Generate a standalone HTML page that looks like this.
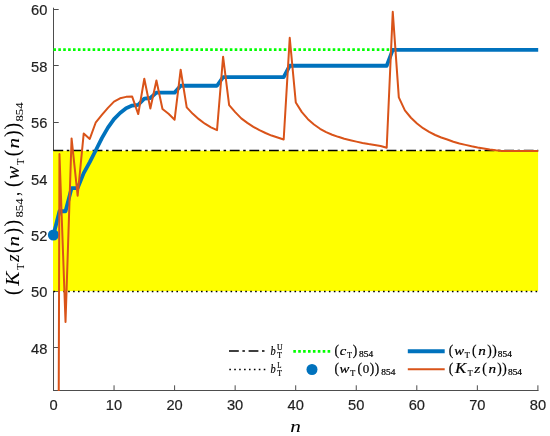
<!DOCTYPE html>
<html><head><meta charset="utf-8"><title>plot</title>
<style>html,body{margin:0;padding:0;background:#fff;overflow:hidden}svg{display:block}</style>
</head><body>
<svg width="550" height="436" viewBox="0 0 550 436">
<defs><clipPath id="c"><rect x="53" y="8" width="486" height="382.9"/></clipPath></defs>
<rect width="550" height="436" fill="#fff"/>
<g stroke="#4d4d4d" stroke-width="1" fill="none">
<path d="M53.5,7.7 V391.0 M53.0,390.5 H538.5"/>
<path d="M53.50,390.5 v-5.2"/>
<path d="M114.05,390.5 v-5.2"/>
<path d="M174.60,390.5 v-5.2"/>
<path d="M235.15,390.5 v-5.2"/>
<path d="M295.70,390.5 v-5.2"/>
<path d="M356.25,390.5 v-5.2"/>
<path d="M416.80,390.5 v-5.2"/>
<path d="M477.35,390.5 v-5.2"/>
<path d="M537.90,390.5 v-5.2"/>
<path d="M53.5,347.5 h5.2"/>
<path d="M53.5,291.5 h5.2"/>
<path d="M53.5,235.5 h5.2"/>
<path d="M53.5,178.5 h5.2"/>
<path d="M53.5,122.5 h5.2"/>
<path d="M53.5,65.5 h5.2"/>
<path d="M53.5,9.5 h5.2"/>
</g>
<g clip-path="url(#c)">
<rect x="53" y="150.75" width="485.10" height="140.40" fill="#ffff00"/>
<path d="M53.4,150.55 H538.2" stroke="#000" stroke-width="1.5" stroke-dasharray="9.8 3.6 2.5 3.7" fill="none"/>
<path d="M53.4,291.50 H538.2" stroke="#000" stroke-width="1.5" stroke-dasharray="1.6 3.32" fill="none"/>
<path d="M53.4,49.55 H538.2" stroke="#00ff00" stroke-width="2.67" stroke-dasharray="2.6 2.3" fill="none"/>
</g>
<circle cx="53.4" cy="235.00" r="5.5" fill="#0072bd"/>
<g clip-path="url(#c)">
<path d="M53.40,235.00 L59.46,211.27 L65.52,211.27 L71.58,188.11 L77.64,188.11 L83.70,173.13 L89.76,162.12 L95.82,150.25 L101.88,138.10 L107.94,127.65 L114.00,119.17 L120.06,112.96 L126.12,108.16 L132.18,105.62 L138.24,104.77 L144.30,98.55 L150.36,97.99 L156.42,92.62 L162.48,92.62 L168.54,92.62 L174.60,92.62 L180.66,85.76 L186.72,85.76 L192.78,85.76 L198.84,85.76 L204.90,85.76 L210.96,85.76 L217.02,85.76 L223.08,77.22 L229.14,77.22 L235.20,77.22 L241.26,77.22 L247.32,77.22 L253.38,77.22 L259.44,77.22 L265.50,77.22 L271.56,77.22 L277.62,77.22 L283.68,77.22 L289.74,65.75 L295.80,65.75 L301.86,65.75 L307.92,65.75 L313.98,65.75 L320.04,65.75 L326.10,65.75 L332.16,65.75 L338.22,65.75 L344.28,65.75 L350.34,65.75 L356.40,65.75 L362.46,65.75 L368.52,65.75 L374.58,65.75 L380.64,65.75 L386.70,65.75 L392.76,49.88 L398.82,49.88 L404.88,49.88 L410.94,49.88 L417.00,49.88 L423.06,49.88 L429.12,49.88 L435.18,49.88 L441.24,49.88 L447.30,49.88 L453.36,49.88 L459.42,49.88 L465.48,49.88 L471.54,49.88 L477.60,49.88 L483.66,49.88 L489.72,49.88 L495.78,49.88 L501.84,49.88 L507.90,49.88 L513.96,49.88 L520.02,49.88 L526.08,49.88 L532.14,49.88 L538.20,49.88" stroke="#0072bd" stroke-width="3.8" stroke-linejoin="round" fill="none"/>
<path d="M53.40,2127.75 L59.46,153.92 L65.52,322.01 L71.58,138.38 L77.64,195.73 L83.70,133.58 L89.76,138.95 L95.82,122.28 L101.88,114.94 L107.94,107.88 L114.00,101.66 L120.06,98.27 L126.12,96.86 L132.18,96.58 L138.24,114.09 L144.30,78.78 L150.36,108.44 L156.42,80.47 L162.48,109.00 L168.54,113.81 L174.60,119.74 L180.66,69.74 L186.72,107.31 L192.78,113.81 L198.84,119.17 L204.90,123.70 L210.96,127.37 L217.02,130.19 L223.08,56.74 L229.14,105.05 L235.20,112.11 L241.26,118.33 L247.32,122.85 L253.38,126.80 L259.44,130.19 L265.50,133.02 L271.56,135.56 L277.62,137.54 L283.68,139.51 L289.74,37.82 L295.80,102.51 L301.86,112.11 L307.92,119.17 L313.98,124.54 L320.04,128.78 L326.10,132.17 L332.16,134.71 L338.22,136.83 L344.28,138.67 L350.34,140.22 L356.40,141.63 L362.46,142.91 L368.52,144.04 L374.58,145.02 L380.64,146.01 L386.70,147.71 L392.76,11.83 L398.82,97.42 L404.88,110.42 L410.94,117.76 L417.00,123.41 L423.06,128.21 L429.12,131.89 L435.18,135.00 L441.24,137.54 L447.30,139.51 L453.36,141.78 L459.42,143.47 L465.48,144.88 L471.54,146.29 L477.60,147.42 L483.66,148.41 L489.72,149.40 L495.78,150.25 L501.84,150.96 L507.90,151.10 L513.96,151.10 L520.02,151.10 L526.08,151.10 L532.14,151.10 L538.20,151.10" stroke="#d95319" stroke-width="2.0" stroke-linejoin="round" fill="none"/>
</g>
<g font-family="'Liberation Sans', Arial, sans-serif" font-size="14.67" fill="#1f1f1f" stroke="#1f1f1f" stroke-width="0.2">
<text x="53.5" y="410.2" text-anchor="middle">0</text>
<text x="114.0" y="410.2" text-anchor="middle">10</text>
<text x="174.6" y="410.2" text-anchor="middle">20</text>
<text x="235.1" y="410.2" text-anchor="middle">30</text>
<text x="295.7" y="410.2" text-anchor="middle">40</text>
<text x="356.2" y="410.2" text-anchor="middle">50</text>
<text x="416.8" y="410.2" text-anchor="middle">60</text>
<text x="477.3" y="410.2" text-anchor="middle">70</text>
<text x="537.9" y="410.2" text-anchor="middle">80</text>
<text x="47.3" y="353.7" text-anchor="end">48</text>
<text x="47.3" y="297.3" text-anchor="end">50</text>
<text x="47.3" y="240.9" text-anchor="end">52</text>
<text x="47.3" y="184.5" text-anchor="end">54</text>
<text x="47.3" y="128.2" text-anchor="end">56</text>
<text x="47.3" y="71.8" text-anchor="end">58</text>
<text x="47.3" y="15.3" text-anchor="end">60</text>
</g>
<g fill="#000" stroke="#000" stroke-width="0.2">
<text stroke-width="0.05" font-family="'Liberation Serif', serif" font-style="italic" font-size="17.43" transform="translate(290.34,431.50) scale(1.220,1)">n</text>
<text font-family="'Liberation Serif', serif" font-style="italic" font-size="13.45" transform="translate(270.41,354.90) scale(0.773,1)">b</text>
<text font-family="'Liberation Serif', serif" font-size="8.02" transform="translate(276.94,350.22) scale(0.972,1)">U</text>
<text font-family="'Liberation Serif', serif" font-size="8.14" transform="translate(277.26,358.10) scale(0.960,1)">T</text>
<text font-family="'Liberation Serif', serif" font-style="italic" font-size="13.45" transform="translate(270.41,372.90) scale(0.773,1)">b</text>
<text font-family="'Liberation Serif', serif" font-size="8.14" transform="translate(277.20,368.30) scale(0.848,1)">L</text>
<text font-family="'Liberation Serif', serif" font-size="8.14" transform="translate(277.26,376.10) scale(0.960,1)">T</text>
<text font-family="'Liberation Serif', serif" font-size="14.41" transform="translate(334.47,354.90) scale(0.937,1)">(</text>
<text font-family="'Liberation Serif', serif" font-style="italic" font-size="12.47" transform="translate(339.75,354.91) scale(1.176,1)">c</text>
<text font-family="'Liberation Serif', serif" font-size="8.14" transform="translate(347.16,358.00) scale(0.960,1)">T</text>
<text font-family="'Liberation Serif', serif" font-size="14.41" transform="translate(352.63,354.90) scale(0.937,1)">)</text>
<text font-family="'Liberation Serif', serif" font-size="7.69" transform="translate(359.06,357.30) scale(1.220,1)">854</text>
<text font-family="'Liberation Serif', serif" font-size="14.41" transform="translate(334.47,372.90) scale(0.937,1)">(</text>
<text font-family="'Liberation Serif', serif" font-style="italic" font-size="12.80" transform="translate(339.55,372.91) scale(1.155,1)">w</text>
<text font-family="'Liberation Serif', serif" font-size="8.14" transform="translate(350.15,376.00) scale(1.003,1)">T</text>
<text font-family="'Liberation Serif', serif" font-size="14.41" transform="translate(357.57,372.90) scale(0.937,1)">(</text>
<text font-family="'Liberation Serif', serif" font-size="13.14" transform="translate(362.71,372.91) scale(0.988,1)">0</text>
<text font-family="'Liberation Serif', serif" font-size="14.41" transform="translate(369.73,372.90) scale(0.937,1)">)</text>
<text font-family="'Liberation Serif', serif" font-size="14.41" transform="translate(374.63,372.90) scale(0.937,1)">)</text>
<text font-family="'Liberation Serif', serif" font-size="7.69" transform="translate(381.26,375.30) scale(1.220,1)">854</text>
<text font-family="'Liberation Serif', serif" font-size="14.41" transform="translate(448.77,354.90) scale(0.937,1)">(</text>
<text font-family="'Liberation Serif', serif" font-style="italic" font-size="12.80" transform="translate(454.25,354.91) scale(1.155,1)">w</text>
<text font-family="'Liberation Serif', serif" font-size="8.14" transform="translate(464.75,358.00) scale(1.003,1)">T</text>
<text font-family="'Liberation Serif', serif" font-size="14.41" transform="translate(471.97,354.90) scale(0.937,1)">(</text>
<text font-family="'Liberation Serif', serif" font-style="italic" font-size="12.45" transform="translate(478.35,354.90) scale(1.220,1)">n</text>
<text font-family="'Liberation Serif', serif" font-size="14.41" transform="translate(487.33,354.90) scale(0.937,1)">)</text>
<text font-family="'Liberation Serif', serif" font-size="14.41" transform="translate(492.23,354.90) scale(0.937,1)">)</text>
<text font-family="'Liberation Serif', serif" font-size="7.69" transform="translate(497.86,357.30) scale(1.220,1)">854</text>
<text font-family="'Liberation Serif', serif" font-size="14.41" transform="translate(448.77,372.90) scale(0.937,1)">(</text>
<text font-family="'Liberation Serif', serif" font-style="italic" font-size="13.90" transform="translate(454.93,372.90) scale(1.220,1)">K</text>
<text font-family="'Liberation Serif', serif" font-size="8.14" transform="translate(467.86,376.00) scale(0.960,1)">T</text>
<text font-family="'Liberation Serif', serif" font-style="italic" font-size="12.78" transform="translate(474.36,372.90) scale(1.220,1)">z</text>
<text font-family="'Liberation Serif', serif" font-size="14.41" transform="translate(482.17,372.90) scale(0.937,1)">(</text>
<text font-family="'Liberation Serif', serif" font-style="italic" font-size="12.45" transform="translate(488.40,372.90) scale(1.220,1)">n</text>
<text font-family="'Liberation Serif', serif" font-size="14.41" transform="translate(497.33,372.90) scale(0.937,1)">)</text>
<text font-family="'Liberation Serif', serif" font-size="14.41" transform="translate(502.33,372.90) scale(0.937,1)">)</text>
<text font-family="'Liberation Serif', serif" font-size="7.69" transform="translate(507.96,375.30) scale(1.220,1)">854</text>
<g transform="translate(19.3,295.2) rotate(-90)" stroke-width="0.05">
<text font-family="'Liberation Serif', serif" font-size="20.18" transform="translate(0.24,-0.00) scale(0.937,1)">(</text>
<text font-family="'Liberation Serif', serif" font-style="italic" font-size="19.47" transform="translate(9.45,0.00) scale(1.089,1)">K</text>
<text font-family="'Liberation Serif', serif" font-size="11.06" transform="translate(25.52,4.30) scale(0.910,1)">T</text>
<text font-family="'Liberation Serif', serif" font-style="italic" font-size="17.90" transform="translate(33.51,0.00) scale(1.039,1)">z</text>
<text font-family="'Liberation Serif', serif" font-size="20.18" transform="translate(42.24,-0.00) scale(0.937,1)">(</text>
<text font-family="'Liberation Serif', serif" font-style="italic" font-size="17.43" transform="translate(48.79,0.00) scale(1.220,1)">n</text>
<text font-family="'Liberation Serif', serif" font-size="20.18" transform="translate(61.06,-0.00) scale(0.937,1)">)</text>
<text font-family="'Liberation Serif', serif" font-size="20.18" transform="translate(68.86,-0.00) scale(0.937,1)">)</text>
<text font-family="'Liberation Serif', serif" font-size="10.45" transform="translate(77.60,4.00) scale(1.220,1)">854</text>
<text font-family="'Liberation Serif', serif" font-size="20.25" transform="translate(99.34,0.19) scale(0.730,1)">,</text>
<text font-family="'Liberation Serif', serif" font-size="20.18" transform="translate(108.14,-0.00) scale(0.937,1)">(</text>
<text font-family="'Liberation Serif', serif" font-style="italic" font-size="17.92" transform="translate(115.83,0.01) scale(1.097,1)">w</text>
<text font-family="'Liberation Serif', serif" font-size="11.06" transform="translate(130.31,4.30) scale(0.942,1)">T</text>
<text font-family="'Liberation Serif', serif" font-size="20.18" transform="translate(138.84,-0.00) scale(0.937,1)">(</text>
<text font-family="'Liberation Serif', serif" font-style="italic" font-size="17.43" transform="translate(146.59,0.00) scale(1.220,1)">n</text>
<text font-family="'Liberation Serif', serif" font-size="20.18" transform="translate(158.46,-0.00) scale(0.937,1)">)</text>
<text font-family="'Liberation Serif', serif" font-size="20.18" transform="translate(165.96,-0.00) scale(0.937,1)">)</text>
<text font-family="'Liberation Serif', serif" font-size="10.45" transform="translate(173.65,4.00) scale(1.220,1)">854</text>
</g>
</g>
<path d="M229,351 H265.4" stroke="#000" stroke-width="1.5" stroke-dasharray="9.8 3.6 2.5 3.7" fill="none"/>
<path d="M229.3,369.4 H265.5" stroke="#000" stroke-width="1.5" stroke-dasharray="1.6 3.32" fill="none"/>
<path d="M293.3,351.3 H330.6" stroke="#00ff00" stroke-width="2.67" stroke-dasharray="2.6 2.3" fill="none"/>
<circle cx="312" cy="369.5" r="5.5" fill="#0072bd"/>
<path d="M407.8,351.2 H444.7" stroke="#0072bd" stroke-width="4" fill="none"/>
<path d="M407.8,369.2 H444.7" stroke="#d95319" stroke-width="2.1" fill="none"/>
</svg>
</body></html>
